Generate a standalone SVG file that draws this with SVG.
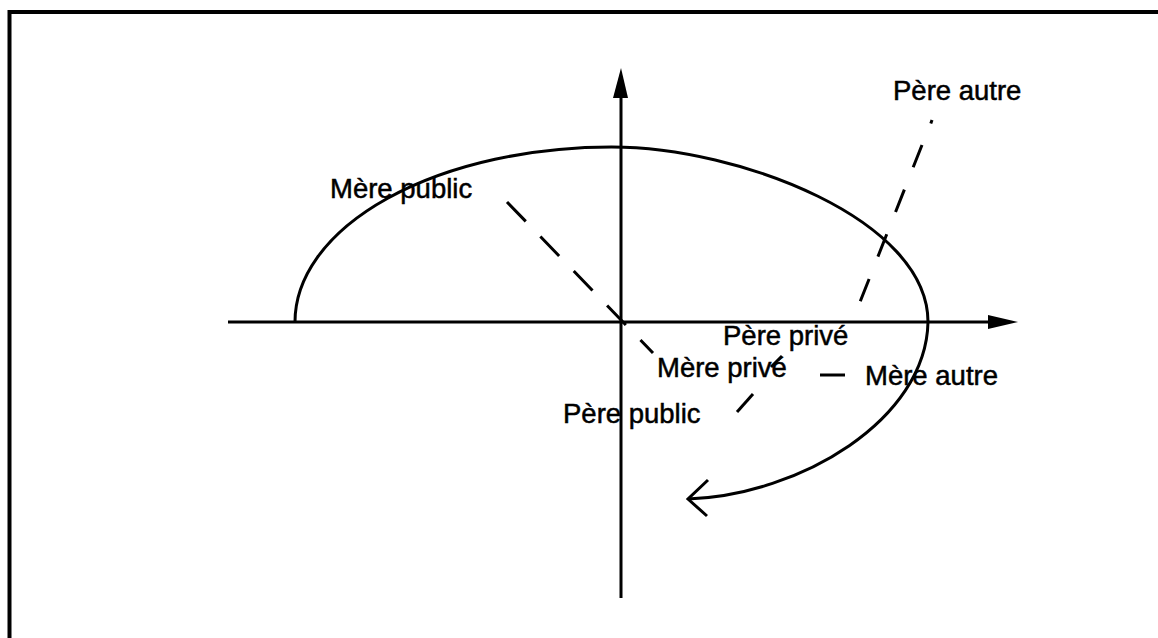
<svg xmlns="http://www.w3.org/2000/svg" width="1158" height="638" viewBox="0 0 1158 638">
  <style>
    .lbl { font-family: "Liberation Sans", Arial, sans-serif; font-size: 27.5px; fill: #000; stroke: #000; stroke-width: 0.5px; }
    .ln { stroke: #000; stroke-width: 3; fill: none; }
    .dash { stroke: #000; stroke-width: 3; fill: none; stroke-dasharray: 24 24; }
    .frame { stroke: #000; stroke-width: 4; fill: none; }
  </style>
  <rect width="1158" height="638" fill="#fff"/>
  <g id="frame">
    <path class="frame" d="M9.5,638 L9.5,12 L1158,12"/>
  </g>
  <g id="axes">
    <line class="ln" x1="228" y1="322" x2="992" y2="322"/>
    <polygon points="1018,322 988,315 988,329" fill="#000"/>
    <line class="ln" x1="621" y1="598" x2="621" y2="94"/>
    <polygon points="621,68 613,98 628,98" fill="#000"/>
  </g>
  <g id="connectors">
    <path id="cycle" class="ln" d="M295,322 A316.5,175 0 0 1 611.5,147 C740,147 928,220 928,322 C926,420 800,495 688,499"/>
    <polyline class="ln" points="708,480 688,499 707,516"/>
    <line id="mere-line" class="ln" stroke-dasharray="27 21" x1="507" y1="202" x2="653" y2="353"/>
    <line id="pere-line" class="dash" x1="922" y1="145" x2="860" y2="302"/>
    <line class="ln" x1="932" y1="120" x2="930.8" y2="123.5"/>
    <line class="ln" x1="771" y1="367" x2="782" y2="356"/>
    <line class="ln" x1="737" y1="412" x2="753" y2="394"/>
    <line class="ln" x1="820" y1="375" x2="845" y2="375"/>
  </g>
  <g id="mere-public"><text class="lbl" x="330" y="198">Mère public</text></g>
  <g id="pere-autre"><text class="lbl" x="893" y="100">Père autre</text></g>
  <g id="pere-prive"><text class="lbl" x="723" y="345">Père privé</text></g>
  <g id="mere-prive"><text class="lbl" x="657" y="377">Mère privé</text></g>
  <g id="mere-autre"><text class="lbl" x="865" y="385">Mère autre</text></g>
  <g id="pere-public"><text class="lbl" x="563" y="423">Père public</text></g>
</svg>
